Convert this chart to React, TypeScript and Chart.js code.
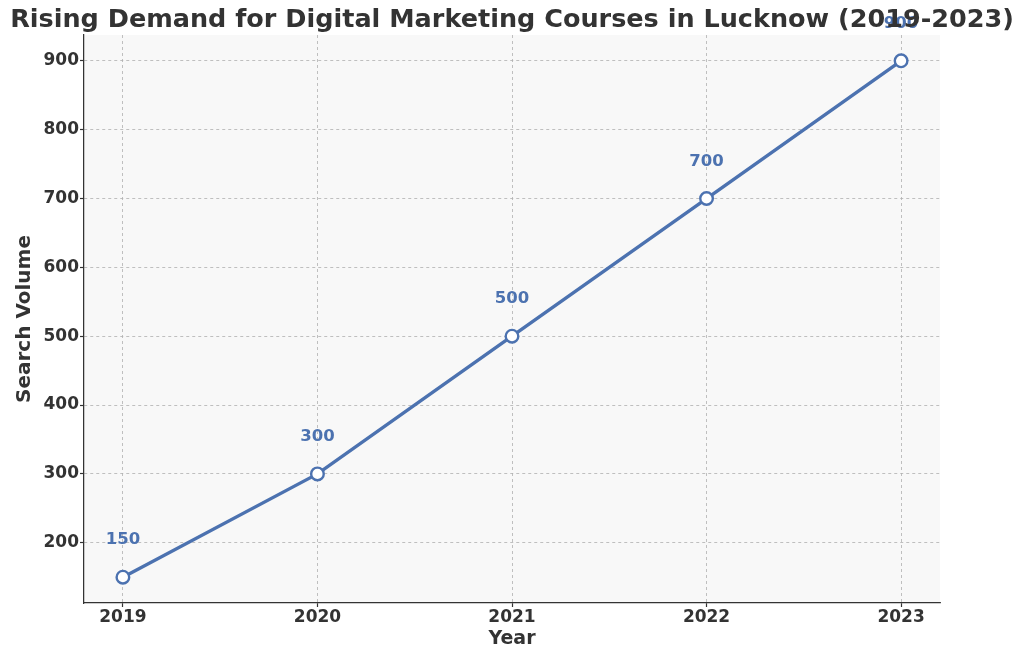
import React, { useEffect, useRef } from "react";
import { Chart, registerables } from "chart.js";

Chart.register(...registerables);

const years = [2019, 2020, 2021, 2022, 2023];
const searchVolume = [150, 300, 500, 700, 900];
const yTicks = [200, 300, 400, 500, 600, 700, 800, 900];
const titleText = "Rising Demand for Digital Marketing Courses in Lucknow (2019-2023)";
const xTitle = "Year";
const yTitle = "Search Volume";

const LINE = "#4c72b0";
const TEXT = "#333333";
const GRID = "#b0b0b0";
const FONT = "'DejaVu Sans', sans-serif";

export default function App() {
  const ref = useRef<HTMLCanvasElement | null>(null);
  useEffect(() => {
    const canvas = ref.current!;
    const bgPlugin = {
      id: "bg",
      beforeDraw(chart: any) {
        const { ctx, chartArea: a } = chart;
        ctx.save();
        ctx.fillStyle = "#ffffff";
        ctx.fillRect(0, 0, chart.width, chart.height);
        ctx.fillStyle = "#f8f8f8";
        ctx.fillRect(a.left, a.top, a.right - a.left, a.bottom - a.top);
        ctx.restore();
      },
    };
    const labelPlugin = {
      id: "labels",
      afterDatasetsDraw(chart: any) {
        const { ctx } = chart;
        const meta = chart.getDatasetMeta(0);
        ctx.save();
        ctx.font = `bold 16.5px ${FONT}`;
        ctx.fillStyle = LINE;
        ctx.textAlign = "center";
        ctx.textBaseline = "middle";
        meta.data.forEach((pt: any, i: number) => {
          ctx.fillText(String(searchVolume[i]), pt.x, pt.y - 37);
        });
        ctx.restore();
      },
      afterDraw(chart: any) {
        const { ctx, chartArea: a } = chart;
        ctx.save();
        ctx.font = `bold 25.5px ${FONT}`;
        ctx.fillStyle = TEXT;
        ctx.textAlign = "center";
        ctx.textBaseline = "middle";
        ctx.fillText(titleText, (a.left + a.right) / 2, 20);
        ctx.restore();
      },
    };
    const gridOpts = {
      color: GRID,
      lineWidth: 0.8,
      tickColor: TEXT,
      tickLength: 4,
      tickWidth: 1.2,
      tickBorderDash: [],
    };
    const chart = new Chart(canvas, {
      type: "line",
      data: {
        datasets: [
          {
            data: years.map((y, i) => ({ x: y, y: searchVolume[i] })),
            borderColor: LINE,
            borderWidth: 3.4,
            pointRadius: 6.3,
            pointBorderWidth: 2.4,
            pointBackgroundColor: "#ffffff",
            pointBorderColor: LINE,
            tension: 0,
          },
        ],
      },
      options: {
        animation: false,
        responsive: false,
        layout: { padding: { top: 35, right: 84, left: 0, bottom: 0 } },
        plugins: { legend: { display: false }, tooltip: { enabled: false }, title: { display: false } },
        scales: {
          x: {
            type: "linear",
            min: 2018.8,
            max: 2023.2,
            afterBuildTicks: (s: any) => {
              s.ticks = years.map((v) => ({ value: v }));
            },
            afterFit: (s: any) => {
              s.height = 56;
            },
            ticks: {
              color: TEXT,
              font: { family: FONT, size: 17, weight: "bold" },
              padding: 0,
              callback: (v: any) => String(v),
              maxRotation: 0,
            },
            grid: gridOpts,
            border: { color: TEXT, width: 1.25, dash: [3, 3] },
            title: {
              display: true,
              text: xTitle,
              color: TEXT,
              font: { family: FONT, size: 19, weight: "bold" },
              padding: 9,
            },
          },
          y: {
            type: "linear",
            min: 112.5,
            max: 937.5,
            afterBuildTicks: (s: any) => {
              s.ticks = yTicks.map((v) => ({ value: v }));
            },
            afterFit: (s: any) => {
              s.width = 84;
            },
            ticks: {
              color: TEXT,
              font: { family: FONT, size: 17, weight: "bold" },
              padding: 1,
            },
            grid: gridOpts,
            border: { color: TEXT, width: 1.25, dash: [3, 3] },
            title: {
              display: true,
              text: yTitle,
              color: TEXT,
              font: { family: FONT, size: 20, weight: "bold" },
              padding: 13,
            },
          },
        },
      },
      plugins: [bgPlugin, labelPlugin],
    } as any);
    return () => chart.destroy();
  }, []);
  return (
    <div style={{ position: "absolute", left: 0, top: 0, width: 1024, height: 659 }}>
      <canvas ref={ref} width={1024} height={659} style={{ width: 1024, height: 659 }} />
    </div>
  );
}
